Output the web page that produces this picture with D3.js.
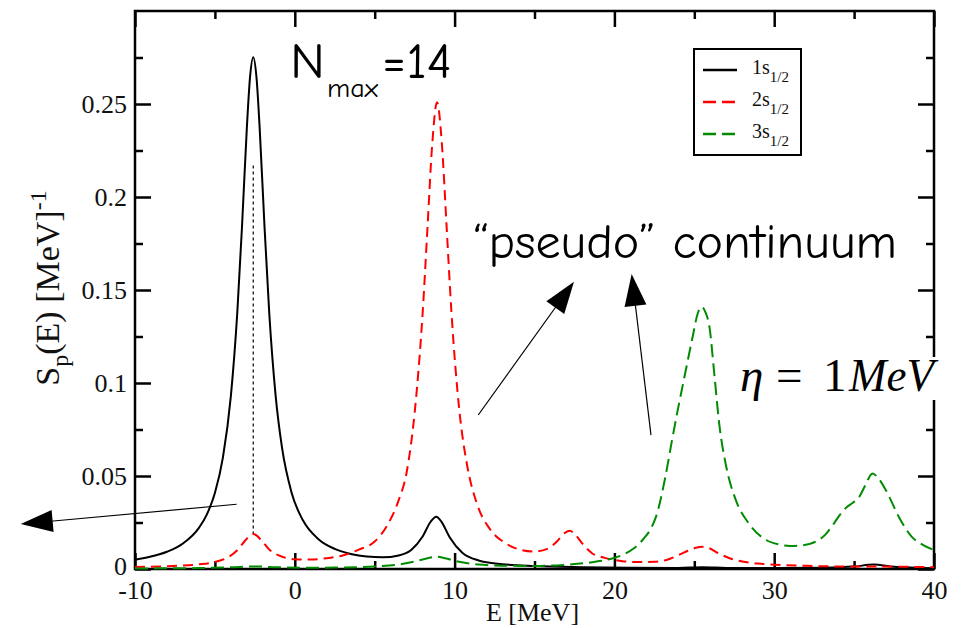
<!DOCTYPE html>
<html>
<head>
<meta charset="utf-8">
<script src="https://cdn.jsdelivr.net/npm/d3@7"></script>
<style>
  html, body { margin: 0; padding: 0; background: #fff; }
  svg { display: block; }
</style>
</head>
<body>
<svg id="chart" width="962" height="628"></svg>
<script>
// Spectral strength S_p(E) for the s1/2 proton states, Nmax = 14, eta = 1 MeV

const energy1s = [-10,-9,-8,-7,-6,-5.5,-5,-4.5,-4,-3.6,-3.3,-3.0,-2.8,-2.6,-2.4,-2.2,-1.9,-1.6,-1.2,-0.8,-0.2,0.5,1.5,2.5,3.5,4.5,5.5,6.5,7.3,8.0,8.5,8.85,9.2,9.7,10.5,11.5,13,15,18,21,24,25.5,27,30,33,35,36.2,37.5,40];
const strength1s = [0.0050,0.0067,0.0093,0.0137,0.0221,0.0294,0.0409,0.0599,0.0931,0.1377,0.1848,0.2373,0.2646,0.2752,0.2646,0.2373,0.1848,0.1378,0.0932,0.0652,0.0410,0.0263,0.0159,0.0108,0.0081,0.0067,0.0063,0.0073,0.0104,0.0175,0.0254,0.0281,0.0251,0.0169,0.0086,0.0046,0.0026,0.0016,0.0010,0.0007,0.0006,0.0009,0.0006,0.0005,0.0007,0.0013,0.0024,0.0012,0.0004];

const energy2s = [-10,-8,-6,-5,-4.2,-3.6,-3.1,-2.8,-2.6,-2.4,-2.1,-1.6,-1,0,1,2,3,4,5,5.8,6.5,7,7.5,8,8.3,8.6,8.9,9.2,9.5,9.8,10.3,10.8,11.4,12.2,13.2,14.2,15,15.8,16.4,16.9,17.2,17.5,18,18.6,19.4,20.5,21.5,22.5,23.3,24,24.6,25.1,25.5,25.9,26.5,27.2,28,29,30,32,34,36,38,40];
const strength2s = [0.0011,0.0015,0.0025,0.0038,0.0062,0.0101,0.0153,0.0180,0.0188,0.0181,0.0155,0.0105,0.0073,0.0053,0.0051,0.0058,0.0073,0.0104,0.0148,0.0237,0.0370,0.0520,0.0841,0.1376,0.1831,0.2284,0.2510,0.2290,0.1840,0.1385,0.0850,0.0550,0.0350,0.0216,0.0138,0.0102,0.0094,0.0108,0.0148,0.0194,0.0206,0.0190,0.0136,0.0085,0.0060,0.0042,0.0037,0.0039,0.0050,0.0074,0.0098,0.0114,0.0119,0.0113,0.0085,0.0058,0.0040,0.0029,0.0023,0.0017,0.0014,0.0014,0.0012,0.0010];

const energy3s = [-10,-6,-4,-2.6,-1,1,3,5,6.5,7.5,8.3,8.85,9.4,10.2,11.5,13,15,16.8,18.8,20,20.5,21.2,21.8,22.3,22.6,23.2,23.6,24,24.4,24.9,25.2,25.45,25.7,25.95,26.25,26.56,27,27.6,28.4,29.5,30.3,31,31.8,32.6,33.2,33.6,34.1,34.5,34.9,35.3,35.7,36.15,36.5,37,37.8,38.6,39.3,40];
const strength3s = [0.0003,0.0005,0.0009,0.0014,0.0009,0.0007,0.0008,0.0014,0.0024,0.0040,0.0058,0.0066,0.0058,0.0040,0.0024,0.0018,0.0016,0.0022,0.0039,0.0060,0.0075,0.0110,0.0160,0.0220,0.0280,0.0500,0.0690,0.0870,0.1040,0.1250,0.1370,0.1410,0.1380,0.1300,0.1050,0.0780,0.0550,0.0370,0.0246,0.0156,0.0132,0.0124,0.0128,0.0147,0.0185,0.0228,0.0290,0.0330,0.0355,0.0385,0.0450,0.0514,0.0490,0.0422,0.0280,0.0174,0.0130,0.0102];

const seriesNames = ["1s", "2s", "3s"];
const seriesColors = ["#000000", "#ff0000", "#008b00"];
const seriesDash = [null, "10,6", "13,6"];

const xTicks = [-10, 0, 10, 20, 30, 40];
const xTickLabels = ["-10", "0", "10", "20", "30", "40"];
const xMinorTicks = [-5, 5, 15, 25, 35];
const yTicks = [0, 0.05, 0.1, 0.15, 0.2, 0.25];
const yTickLabels = ["0", "0.05", "0.1", "0.15", "0.2", "0.25"];
const yMinorTicks = [0.025, 0.075, 0.125, 0.175, 0.225, 0.275];

// quasi-bound 1s level and its dotted guide
const guideEnergy = -2.6;
const guideTop = 0.217;

// annotation arrows: start and tip in (E, S) coordinates
const arrowStarts = [[11.48, 0.0828], [22.29, 0.072], [-3.64, 0.0348]];
const arrowTips = [[17.47, 0.1545], [21.08, 0.1586], [-17.15, 0.0242]];

const svg = d3.select("#chart");
const plotLeft = 135, plotRight = 934, plotTop = 11, plotBottom = 569;
const x = d3.scaleLinear().domain([-10, 40]).range([plotLeft, plotRight]);
const y = d3.scaleLinear().domain([0, 0.3]).range([plotBottom, plotTop]);

const serif = "'Liberation Serif','Times New Roman',serif";
const hand = "'Comic Sans MS','Comic Neue','Open Sans',sans-serif";

// ---- axes (ticks point inward on all four sides) ----
function styleAxis(g) {
  g.select(".domain").remove();
  g.selectAll(".tick line").attr("stroke", "#000").attr("stroke-width", 2.5);
  g.selectAll(".tick text").attr("fill", "#111").style("font-family", serif).style("font-size", "26px");
}
const fmtX = d => xTickLabels[xTicks.indexOf(d)];
const fmtY = d => yTickLabels[yTicks.indexOf(d)];

svg.append("g").attr("transform", `translate(0,${plotBottom})`)
  .call(d3.axisBottom(x).tickValues(xTicks).tickFormat(fmtX).tickSize(-16).tickPadding(12)).call(styleAxis);
svg.append("g").attr("transform", `translate(0,${plotBottom})`)
  .call(d3.axisBottom(x).tickValues(xMinorTicks).tickFormat("").tickSize(-8)).call(styleAxis);
svg.append("g").attr("transform", `translate(0,${plotTop})`)
  .call(d3.axisTop(x).tickValues(xTicks).tickFormat("").tickSize(-16)).call(styleAxis);
svg.append("g").attr("transform", `translate(0,${plotTop})`)
  .call(d3.axisTop(x).tickValues(xMinorTicks).tickFormat("").tickSize(-8)).call(styleAxis);

const yAxisG = svg.append("g").attr("transform", `translate(${plotLeft},0)`)
  .call(d3.axisLeft(y).tickValues(yTicks).tickFormat(fmtY).tickSize(-16).tickPadding(8)).call(styleAxis);
// the zero label sits just above the "-10" label
yAxisG.selectAll(".tick text").filter(d => d === 0).attr("dy", "0.2em");
svg.append("g").attr("transform", `translate(${plotLeft},0)`)
  .call(d3.axisLeft(y).tickValues(yMinorTicks).tickFormat("").tickSize(-8)).call(styleAxis);
svg.append("g").attr("transform", `translate(${plotRight},0)`)
  .call(d3.axisRight(y).tickValues(yTicks).tickFormat("").tickSize(-16)).call(styleAxis);
svg.append("g").attr("transform", `translate(${plotRight},0)`)
  .call(d3.axisRight(y).tickValues(yMinorTicks).tickFormat("").tickSize(-8)).call(styleAxis);

svg.append("rect")
  .attr("x", plotLeft).attr("y", plotTop).attr("width", plotRight - plotLeft).attr("height", plotBottom - plotTop)
  .attr("fill", "none").attr("stroke", "#000").attr("stroke-width", 2.5);

// axis titles
svg.append("text")
  .attr("x", (plotLeft + plotRight) / 2 - 2).attr("y", 621)
  .attr("text-anchor", "middle").attr("fill", "#111")
  .style("font-family", serif).style("font-size", "26px")
  .text("E [MeV]");

const yTitle = svg.append("text")
  .attr("transform", "translate(59,288) rotate(-90)")
  .attr("text-anchor", "middle").attr("fill", "#111")
  .style("font-family", serif).style("font-size", "34px");
yTitle.append("tspan").text("S");
yTitle.append("tspan").attr("dy", 9).style("font-size", "24px").text("p");
yTitle.append("tspan").attr("dy", -9).text("(E) [MeV]");
yTitle.append("tspan").attr("dy", -13).style("font-size", "24px").text("-1");

// ---- dotted guide at the 1s peak ----
svg.append("line")
  .attr("x1", x(guideEnergy)).attr("x2", x(guideEnergy))
  .attr("y1", y(guideTop)).attr("y2", y(strength2s[energy2s.indexOf(guideEnergy)]))
  .attr("stroke", "#000").attr("stroke-width", 1.2).attr("stroke-dasharray", "3,3");

// ---- curves ----
const line = d3.line().x(d => x(d[0])).y(d => y(d[1])).curve(d3.curveMonotoneX);
const seriesData = [
  d3.zip(energy1s, strength1s),
  d3.zip(energy2s, strength2s),
  d3.zip(energy3s, strength3s)
];
seriesData.forEach((pts, i) => {
  svg.append("path")
    .datum(pts)
    .attr("d", line)
    .attr("fill", "none")
    .attr("stroke", seriesColors[i])
    .attr("stroke-width", 2)
    .attr("stroke-dasharray", seriesDash[i]);
});

// ---- legend ----
const lg = svg.append("g");
lg.append("rect").attr("x", 694).attr("y", 49).attr("width", 107).attr("height", 106)
  .attr("fill", "#fff").attr("stroke", "#000").attr("stroke-width", 2);
seriesNames.forEach((name, i) => {
  const ly = 70 + i * 32;
  lg.append("line").attr("x1", 703).attr("x2", 737).attr("y1", ly).attr("y2", ly)
    .attr("stroke", seriesColors[i]).attr("stroke-width", 2.5)
    .attr("stroke-dasharray", seriesDash[i] ? "13,6" : null);
  const t = lg.append("text").attr("x", 752).attr("y", ly + 4).attr("fill", "#111")
    .style("font-family", serif).style("font-size", "20px");
  t.append("tspan").text(name);
  t.append("tspan").attr("dy", 8).style("font-size", "15px").text("1/2");
});

// ---- annotations ----
function arrow(from, tip) {
  const x0 = x(from[0]), y0 = y(from[1]), x1 = x(tip[0]), y1 = y(tip[1]);
  const dx = x1 - x0, dy = y1 - y0, len = Math.hypot(dx, dy);
  const ux = dx / len, uy = dy / len, headLen = 32, headHalf = 11;
  const bx = x1 - ux * headLen, by = y1 - uy * headLen;
  svg.append("line").attr("x1", x0).attr("y1", y0).attr("x2", bx + ux * 2).attr("y2", by + uy * 2)
    .attr("stroke", "#000").attr("stroke-width", 1.2);
  svg.append("polygon")
    .attr("points", [[x1, y1], [bx - uy * headHalf, by + ux * headHalf], [bx + uy * headHalf, by - ux * headHalf]].map(p => p.join(",")).join(" "))
    .attr("fill", "#000");
}
arrowStarts.forEach((s, i) => arrow(s, arrowTips[i]));

svg.append("text").attr("x", 290).attr("y", 78)
  .attr("textLength", 35).attr("lengthAdjust", "spacingAndGlyphs")
  .style("font-family", hand).style("font-size", "51px").style("font-weight", 500).text("N");
svg.append("text").attr("x", 327).attr("y", 97)
  .attr("textLength", 51).attr("lengthAdjust", "spacingAndGlyphs")
  .style("font-family", hand).style("font-size", "27px").style("font-weight", 500).text("max");
svg.append("text").attr("x", 382).attr("y", 78)
  .attr("textLength", 70).attr("lengthAdjust", "spacingAndGlyphs")
  .style("font-family", hand).style("font-size", "51px").style("font-weight", 500).text("=14");

svg.append("text").attr("x", 473).attr("y", 258)
  .attr("textLength", 424).attr("lengthAdjust", "spacingAndGlyphs")
  .style("font-family", hand).style("font-size", "49px").style("font-weight", 500)
  .text("\u201Cpseudo\u201D continuum");

// smearing width label, on a white box over the right axis
svg.append("rect").attr("x", 736).attr("y", 357).attr("width", 206).attr("height", 43).attr("fill", "#fff");
const eta = svg.append("text").attr("y", 391).attr("fill", "#000")
  .style("font-family", serif).style("font-size", "47px");
eta.append("tspan").attr("x", 740).style("font-style", "italic").text("\u03B7");
eta.append("tspan").attr("x", 776).text("=");
eta.append("tspan").attr("x", 823).text("1");
eta.append("tspan").attr("x", 849).style("font-style", "italic")
  .attr("textLength", 85).attr("lengthAdjust", "spacingAndGlyphs").text("MeV");
</script>
</body>
</html>
